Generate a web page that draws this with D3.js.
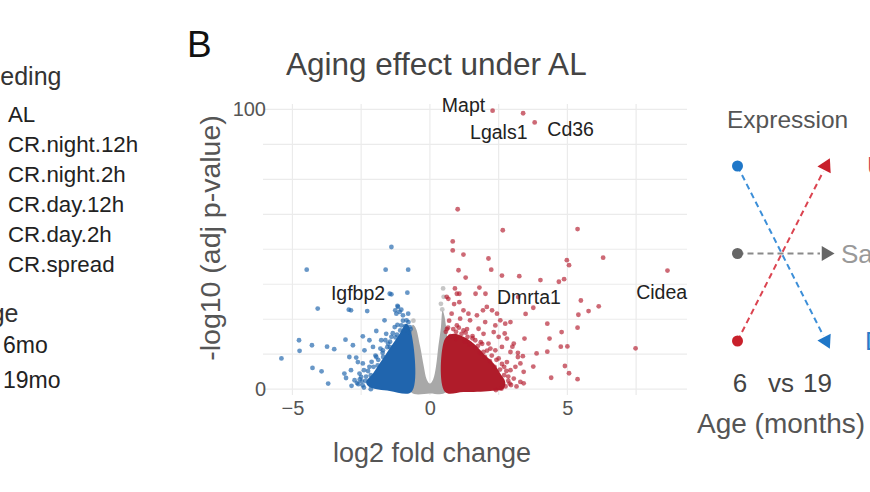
<!DOCTYPE html>
<html><head><meta charset="utf-8">
<script src="https://cdn.jsdelivr.net/npm/d3@7"></script>
<style>
body{margin:0;background:#fff;overflow:hidden;}
svg{display:block;font-family:"Liberation Sans",Arial,Helvetica,sans-serif;}
</style>
</head><body>
<svg id="chart" width="870" height="492"></svg>
<script>
// ---------- data ----------
const feedingTitle = "Feeding";
const feedingLevels = ["AL", "CR.night.12h", "CR.night.2h", "CR.day.12h", "CR.day.2h", "CR.spread"];
const ageTitle = "Age";
const ageLevels = ["6mo", "19mo"];

const panelLetter = "B";
const plotTitle = "Aging effect under AL";
const xLabel = "log2 fold change";
const yLabel = "-log10 (adj p-value)";
const xTicks = [-5, 0, 5];
const yTicks = [0, 100];
const xGrid = [-5, -2.5, 0, 2.5, 5, 7.5];
const yGrid = [0, 12.5, 25, 37.5, 50, 62.5, 75, 87.5, 100];

// dense cores of the clouds (outline of the overplotted mass)
const upCore = [[0.55,-1],[0.55,18],[0.85,19.8],[1.22,18.7],[1.59,16.3],[1.95,12.7],[2.32,9.2],[2.56,5.6],[2.74,2.6],[2.68,0.2],[2.2,-0.6],[1.22,-1]];
const downCore = [[-0.67,-1],[-0.67,19.8],[-0.85,23.4],[-1.10,19.8],[-1.34,16.3],[-1.59,12.7],[-1.83,9.2],[-2.07,5.6],[-2.32,2.6],[-2.20,0.8],[-1.46,-0.6]];
const nsCore = [[-0.69,-1],[-0.69,20],[-0.62,23],[-0.52,22],[-0.36,15.5],[-0.22,8],[-0.12,3.6],[0,2],[0.12,3.6],[0.22,8],[0.31,15.5],[0.40,22],[0.46,28],[0.55,25],[0.58,-1],[0,-1.5]];

// individual genes
const upGenes = [
 [2.28,99.5],[3.39,98.6],[3.81,95.3],[1.01,64.3],[2.65,56.8],[5.37,57.2],[0.83,52.8],[0.83,49.6],[1.22,48.1],[2.13,46.7],
 [6.30,47.0],[4.98,46.1],[5.06,44.3],[1.04,42.5],[2.23,42.7],[1.30,39.9],[2.62,40.6],[3.25,40.4],[4.02,39.0],[4.69,38.4],
 [4.88,39.3],[8.64,42.4],[1.80,36.3],[0.91,36.0],[0.61,33.0],[1.07,34.1],[1.66,34.1],[2.02,34.1],[3.21,32.9],[3.76,29.1],
 [5.49,31.7],[5.77,27.9],[6.14,29.6],[5.40,26.6],[3.48,26.9],[4.27,23.4],[4.79,20.4],[5.37,22.0],[3.44,18.1],[4.35,18.1],
 [4.76,15.2],[5.00,15.3],[7.48,14.6],[3.88,12.8],[4.27,13.4],[4.91,8.3],[5.06,5.7],[4.41,4.1],[5.37,3.6],[3.41,2.1],
 [3.76,8.1],[3.38,11.8],[3.20,13.0],[3.00,15.2],[2.72,19.9],[0.88,30.4],
 [0.67,32.3],[0.98,34.1],[1.07,31.1],[1.22,28.2],[1.40,27.0],[1.10,25.2],[1.46,24.6],[1.71,26.4],[1.93,28.2],[2.07,29.4],
 [2.26,28.2],[2.44,27.0],[2.56,24.6],[2.74,23.4],[2.93,24.0],[2.38,22.8],[2.01,24.0],[1.77,21.6],[1.95,19.8],[2.32,20.4],
 [2.50,18.7],[2.80,18.1],[3.05,16.3],[1.22,21.0],[0.98,22.8],[0.79,27.0],[1.37,18.7],[1.65,17.5],[2.13,16.3],[2.62,15.1],
 [2.93,13.3],[3.20,11.5],[3.29,9.2],[3.11,8.0],[2.93,6.8],[3.41,6.2],[3.29,2.6],[3.05,3.8],[2.80,9.7],[2.38,13.9],[1.95,13.3],
 [0.70,24.5],[0.62,21.5],[0.95,20.5],[1.30,20.2],[1.55,19.0],[1.85,16.8],[2.20,14.5],[2.50,11.0],[2.70,8.0],[2.85,4.5],[2.95,1.5],[3.15,1.0],
 [0.58,20.5],[0.66,22.0],[0.75,19.0],[0.85,21.5],[0.95,18.0],[1.05,22.0],[1.15,19.8],[1.28,17.0],[1.35,21.5],[1.45,16.0],
 [1.55,18.2],[1.62,14.8],[1.75,15.5],[1.82,13.0],[1.90,16.2],[2.00,11.5],[2.08,13.8],[2.18,10.0],[2.25,12.0],[2.35,8.0],
 [2.42,10.5],[2.55,7.0],[2.62,9.0],[2.70,5.0],[2.78,6.5],[2.85,3.0],[2.90,2.0],[2.75,1.0],[2.60,0.2],[2.40,-0.3]
];
const downGenes = [
 [-1.40,50.8],[-4.48,42.7],[-1.61,42.7],[-0.79,42.7],[-0.82,34.5],[-1.40,33.9],[-1.46,34.1],[-4.08,28.8],[-2.95,28.4],[-2.87,28.2],
 [-2.28,27.9],[-4.76,17.5],[-4.29,15.7],[-4.74,13.7],[-3.74,15.2],[-3.48,14.3],[-5.40,11.0],[-4.27,7.6],[-3.94,6.4],[-3.70,2.0],
 [-1.16,29.4],[-1.10,27.6],[-1.22,27.0],[-0.98,26.4],[-0.85,24.6],[-1.04,22.8],[-1.28,22.2],[-1.65,24.6],[-1.95,20.8],[-1.59,19.8],
 [-1.40,18.7],[-1.77,17.5],[-2.20,17.5],[-2.44,18.9],[-2.07,15.1],[-2.38,13.9],[-2.68,11.3],[-2.62,9.7],[-2.44,9.2],[-2.80,15.7],
 [-3.07,17.7],[-2.93,11.5],[-3.11,5.6],[-3.05,4.0],[-2.87,6.8],[-2.56,5.6],[-2.74,3.2],[-2.44,1.4],[-2.50,4.4],[-2.20,8.0],
 [-1.95,11.5],[-1.71,13.9],[-1.52,16.3],[-0.79,27.0],[-0.73,22.2],[-1.18,29.8],[-1.26,28.2],[-1.04,28.4],
 [-0.75,20.5],[-0.95,21.0],[-1.20,19.5],[-1.45,15.0],[-1.70,11.5],[-1.90,8.5],[-2.15,5.0],[-2.35,3.0],[-2.60,1.8],[-2.85,1.2],
 [-0.70,21.5],[-0.78,24.0],[-0.90,22.5],[-0.98,24.5],[-1.08,21.0],[-1.18,23.0],[-1.25,18.5],[-1.35,20.0],[-1.45,17.0],[-1.55,15.0],
 [-1.62,17.5],[-1.72,13.0],[-1.80,14.5],[-1.88,10.5],[-1.98,12.0],[-2.05,8.0],[-2.12,9.8],[-2.25,6.5],[-2.32,4.5],[-2.40,6.8],
 [-2.48,2.8],[-2.55,3.5],[-2.40,0.6],[-2.15,0.0],[-2.65,2.2]
];
const nsGenes = [[0.48,36.0],[0.45,28.5],[0.40,30.5],[-0.60,24.5],[0.50,33.0]];

const geneLabels = [
 {gene:"Mapt",   x:2.01, y:99.2, anchor:"end"},
 {gene:"Lgals1", x:1.46, y:89.4, anchor:"start"},
 {gene:"Cd36",   x:4.27, y:90.6, anchor:"start"},
 {gene:"Igfbp2", x:-3.60,y:31.7, anchor:"start"},
 {gene:"Dmrta1", x:2.44, y:30.3, anchor:"start"},
 {gene:"Cidea",  x:7.50, y:32.3, anchor:"start"}
];

// schematic on the right
const schemeTitle = "Expression";
const schemeAges = ["6", "19"];
const schemeAxisTitle = "Age (months)";
const schemeLevels = ["high", "mid", "low"];
const schemeTrajectories = [
 {label:"Down", from:"high", to:"low",  color:"#1f77c8", line:"#3d8fd8", text:"#2b7cc8", tx:865},
 {label:"Same", from:"mid",  to:"mid",  color:"#666666", line:"#8a8a8a", text:"#999999", tx:841},
 {label:"Up",   from:"low",  to:"high", color:"#c8202b", line:"#db4450", text:"#d0505a", tx:867}
];

// ---------- drawing ----------
const svg = d3.select("#chart");
const font = '"Liberation Sans",Arial,Helvetica,sans-serif';

// left legend (cropped)
svg.append("text").attr("x", 61.5).attr("y", 85).attr("text-anchor","end")
  .attr("font-size", 25).attr("fill", "#333").text(feedingTitle);
svg.append("g").selectAll("text").data(feedingLevels).join("text")
  .attr("x", 8).attr("y", (d,i) => 121.7 + i*30)
  .attr("font-size", 22.3).attr("fill", "#222").text(d => d);
svg.append("text").attr("x", 18.5).attr("y", 321.7).attr("text-anchor","end")
  .attr("font-size", 25).attr("fill", "#333").text(ageTitle);
svg.append("g").selectAll("text").data(ageLevels).join("text")
  .attr("x", 3).attr("y", (d,i) => 353.3 + i*35)
  .attr("font-size", 23).attr("fill", "#222").text(d => d);

// panel letter and title
svg.append("text").attr("x", 187).attr("y", 57).attr("font-size", 37).attr("fill","#111").text(panelLetter);
svg.append("text").attr("x", 286).attr("y", 75).attr("font-size", 31.5).attr("fill","#444").text(plotTitle);

// scales
const x = d3.scaleLinear().domain([-6.07, 9.35]).range([263, 687]);
const y = d3.scaleLinear().domain([-2.07, 101.9]).range([395, 104]);

// grid
const grid = svg.append("g");
grid.selectAll("line.h").data(yGrid).join("line").attr("class","h")
  .attr("x1", x.range()[0]).attr("x2", x.range()[1])
  .attr("y1", d => y(d)).attr("y2", d => y(d))
  .attr("stroke", "#ebebeb").attr("stroke-width", 1.2);
grid.selectAll("line.v").data(xGrid).join("line").attr("class","v")
  .attr("y1", y.range()[0]).attr("y2", y.range()[1])
  .attr("x1", d => x(d)).attr("x2", d => x(d))
  .attr("stroke", "#ebebeb").attr("stroke-width", 1.2);

// cores
const poly = d3.line().x(d => x(d[0])).y(d => y(d[1])).curve(d3.curveCatmullRomClosed.alpha(0.5));
svg.append("path").attr("d", poly(nsCore)).attr("fill", "#a8a8a8");
svg.append("path").attr("d", poly(downCore)).attr("fill", "#2065ae");
svg.append("path").attr("d", poly(upCore)).attr("fill", "#b01c2a");

// points
function dots(data, color, op) {
  svg.append("g").selectAll("circle").data(data).join("circle")
    .attr("cx", d => x(d[0])).attr("cy", d => y(d[1])).attr("r", 2.4)
    .attr("fill", color).attr("fill-opacity", op);
}
dots(nsGenes, "#a0a0a0", 0.6);
dots(downGenes, "#2166ac", 0.68);
dots(upGenes, "#b2182b", 0.65);

// axes
const xAxis = svg.append("g").attr("transform", "translate(0,395)")
  .call(d3.axisBottom(x).tickValues(xTicks).tickSize(0).tickPadding(6).tickFormat(d3.format("d")));
const yAxis = svg.append("g").attr("transform", "translate(267,0)")
  .call(d3.axisLeft(y).tickValues(yTicks).tickSize(0).tickPadding(1));
[xAxis, yAxis].forEach(a => {
  a.select(".domain").remove();
  a.selectAll("text").attr("font-size", 20).attr("font-family", font).attr("fill", "#555");
});

svg.append("text").attr("x", 432).attr("y", 461.5).attr("text-anchor","middle")
  .attr("font-size", 27).attr("fill","#555").text(xLabel);
svg.append("text").attr("transform", "translate(220,238) rotate(-90)").attr("text-anchor","middle")
  .attr("font-size", 28.5).attr("fill","#555").text(yLabel);

// gene labels
svg.append("g").selectAll("text").data(geneLabels).join("text")
  .attr("x", d => x(d.x)).attr("y", d => y(d.y)).attr("text-anchor", d => d.anchor)
  .attr("font-size", 19.5).attr("fill", "#222").text(d => d.gene);

// schematic
const sx = d3.scalePoint().domain(schemeAges).range([737.5, 826]);
const sy = d3.scalePoint().domain(schemeLevels).range([166, 341]);
svg.append("text").attr("x", 727).attr("y", 128).attr("font-size", 24.5).attr("fill","#555").text(schemeTitle);
const sg = svg.append("g");
schemeTrajectories.forEach(t => {
  const x0 = sx("6"), y0 = sy(t.from), x1 = sx("19"), y1 = sy(t.to);
  const ang = Math.atan2(y1 - y0, x1 - x0) * 180 / Math.PI;
  const ux = Math.cos(ang*Math.PI/180), uy = Math.sin(ang*Math.PI/180);
  sg.append("line").attr("x1", x0).attr("y1", y0).attr("x2", x1 - ux*6).attr("y2", y1 - uy*6)
    .attr("stroke", t.line).attr("stroke-width", 2).attr("stroke-dasharray", "6,4");
  sg.append("circle").attr("cx", x0).attr("cy", y0).attr("r", 5.5).attr("fill", t.color);
  sg.append("path").attr("d", d3.symbol(d3.symbolTriangle, 95)())
    .attr("transform", `translate(${x1},${y1}) rotate(${ang + 90})`).attr("fill", t.color);
  sg.append("text").attr("x", t.tx).attr("y", y1 + 9)
    .attr("font-size", 26).attr("fill", t.text).text(t.label);
});
svg.append("text").attr("x", 740).attr("y", 391.7).attr("text-anchor","middle").attr("font-size", 26).attr("fill","#444").text(schemeAges[0]);
svg.append("text").attr("x", 781).attr("y", 391.7).attr("text-anchor","middle").attr("font-size", 26).attr("fill","#444").text("vs");
svg.append("text").attr("x", 817.5).attr("y", 391.7).attr("text-anchor","middle").attr("font-size", 26).attr("fill","#444").text(schemeAges[1]);
svg.append("text").attr("x", 697).attr("y", 433).attr("font-size", 28).attr("fill","#555").text(schemeAxisTitle);
</script>
</body></html>
